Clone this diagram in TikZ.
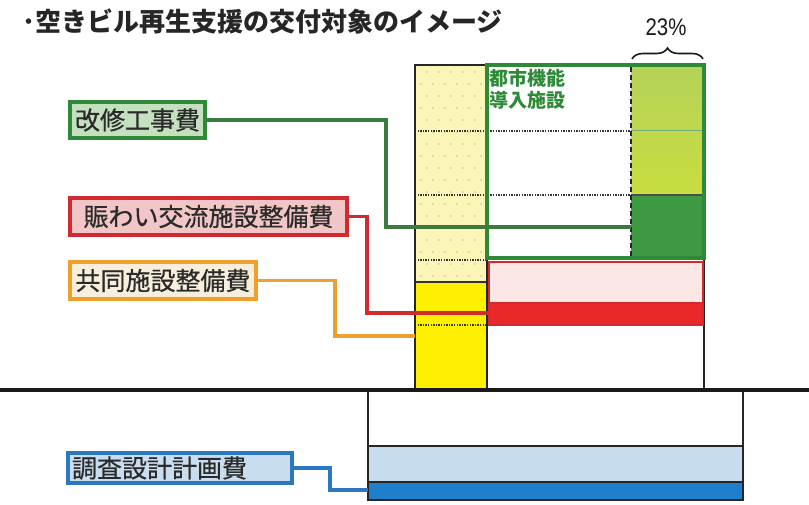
\documentclass[tikz,border=0pt]{standalone}
\usepackage{fontspec}
\setmainfont{Noto Sans CJK JP}
\newfontfamily\labfont[FakeBold=0.6]{Noto Sans CJK JP}
\newfontfamily\numfont{Liberation Sans}
\usetikzlibrary{decorations.pathreplacing}
\definecolor{ylight}{HTML}{FBF6B8}
\definecolor{ysolid}{HTML}{FFF000}
\definecolor{lgA}{HTML}{B5D25A}
\definecolor{lgB}{HTML}{C8DD3E}
\definecolor{dgreen}{HTML}{3E9A42}
\definecolor{gborder}{HTML}{2F8A38}
\definecolor{pinkfill}{HTML}{FBE8E6}
\definecolor{redband}{HTML}{E8282B}
\definecolor{redborder}{HTML}{D22A2E}
\definecolor{lblue}{HTML}{C7DDEF}
\definecolor{dblue}{HTML}{1E7FCD}
\definecolor{lgfill}{HTML}{C5E0BE}
\definecolor{lpfill}{HTML}{F2C6C6}
\definecolor{lofill}{HTML}{F7EFDC}
\definecolor{oborder}{HTML}{EFA02C}
\definecolor{lbfill}{HTML}{C9DDF0}
\definecolor{bborder}{HTML}{2B78BE}
\definecolor{gline}{HTML}{3C7A40}
\definecolor{txt}{HTML}{2A2A2A}
\definecolor{dotc}{HTML}{C9C08E}
\begin{document}
\begin{tikzpicture}[x=1pt,y=-1pt,
  lab/.style={line width=3.4pt, inner sep=0pt, font=\labfont\fontsize{25}{25}\selectfont, text=txt, anchor=center},
  conn/.style={line width=3.3pt},
  dotline/.style={line width=1.8pt, dash pattern=on 1.3pt off 1.3pt, draw=black!80}]
\useasboundingbox (0,0) rectangle (809,505);
\fill[white] (0,0) rectangle (809,505);
% title
\node[anchor=west, inner sep=0pt, text=black!85, font=\fontsize{26}{26}\selectfont\bfseries] (title) at (22,21) {･空きビル再生支援の交付対象のイメージ};
% yellow column
\fill[ylight] (415,65) rectangle (487,282);
\fill[ysolid] (415,282) rectangle (487,388);
% right column
\shade[top color=lgA, bottom color=lgB] (631,65) rectangle (704,195);
\fill[dgreen] (631,195) rectangle (704,258);
% red box
\fill[pinkfill] (489,262) rectangle (703,303);
\fill[redband] (489,303) rectangle (703,325);
% dots
\foreach \yy [count=\i] in {72,84,...,276} {
  \pgfmathsetmacro{\off}{mod(\i,2)*6}
  \foreach \xx in {421,433,...,481} {\fill[dotc] (\xx+\off,\yy) circle (0.8pt);}
}
\foreach \yy [count=\i] in {270,282,294} {
  \pgfmathsetmacro{\off}{mod(\i,2)*8}
  \foreach \xx in {496,512,...,696} {\fill[pinkfill!60!gray!70] (\xx+\off,\yy) circle (0.7pt);}
}
% internal lines
\draw[dotline] (415,131) -- (631,131);
\draw[dotline] (415,195) -- (631,195);
\draw[dotline] (415,260) -- (487,260);
\draw[dotline] (415,325) -- (703,325);
\draw[line width=1.6pt, black!80] (415,282) -- (487,282);
\draw[line width=1pt, gborder!70] (631,131) -- (704,131);
\draw[line width=1.6pt, black!70] (631,195) -- (704,195);
% building outline
\draw[line width=1.8pt, black!85] (487,258) -- (487,388);
\draw[line width=1.8pt, black!85] (487,65) -- (415,65) -- (415,388);
\draw[line width=1.8pt, black!85] (704,258) -- (704,388);
% green box
\draw[line width=3.6pt, gborder] (487,65) rectangle (704,258);
\draw[line width=1.6pt, black!85, dash pattern=on 5pt off 3pt] (631,67) -- (631,256);
% red box border
\draw[line width=2.4pt, redborder] (489,262) rectangle (703,325);
\draw[line width=1.4pt, redborder] (489,303) -- (703,303);
% green text
\node[anchor=north west, inner sep=0pt, align=left, text=gborder, font=\fontsize{19}{22}\selectfont\bfseries] (toshi) at (489,69) {都市機能\\導入施設};
% brace and percent
\coordinate (brL) at (632,59);
\coordinate (brR) at (703,59);
\draw[line width=1.6pt, black!90, decorate, decoration={brace, amplitude=11pt}] (brL) -- (brR);
\node[inner sep=0pt, text=black!90, font=\numfont\fontsize{24}{24}\selectfont, xscale=0.85] (pct) at (666,27) {23\%};
% ground
\draw[line width=4.5pt, black!90] (0,390) -- (809,390);
% underground box
\fill[lblue] (368,446) rectangle (743,482);
\fill[dblue] (368,482) rectangle (743,500);
\draw[line width=1.8pt, black!85] (368,392) -- (368,500) -- (743,500) -- (743,392);
\draw[line width=1.6pt, black!85] (368,446) -- (743,446);
\draw[line width=1.6pt, black!85] (368,482) -- (743,482);
% labels
\node[lab, draw=gborder, fill=lgfill, minimum width=135pt, minimum height=36pt] (kaishu) at (137.5,120) {改修工事費};
\node[lab, draw=redborder, fill=lpfill, minimum width=277pt, minimum height=37pt] (nigiwai) at (208.5,216.5) {賑わい交流施設整備費};
\node[lab, draw=oborder, fill=lofill, minimum width=186pt, minimum height=37pt] (kyodo) at (163,280.5) {共同施設整備費};
\node[lab, draw=bborder, fill=lbfill, minimum width=224pt, minimum height=30pt, text width=216pt, align=left] (chosa) at (180,468) {調査設計計画費};
% connector targets
\coordinate (gturn) at (386,227);
\coordinate (gend) at (631,227);
\coordinate (rturn) at (367,313);
\coordinate (rend) at (489,313);
\coordinate (oturn) at (335,336);
\coordinate (oend) at (415,336);
\coordinate (bturn) at (330,490);
\coordinate (bend) at (368,490);
\draw[conn, gline] (kaishu.east) -| (gturn) -- (gend);
\draw[conn, redborder] (nigiwai.east) -| (rturn) -- (rend);
\draw[conn, oborder] (kyodo.east) -| (oturn) -- (oend);
\draw[conn, bborder] (chosa.east) -| (bturn) -- (bend);
\end{tikzpicture}
\end{document}
